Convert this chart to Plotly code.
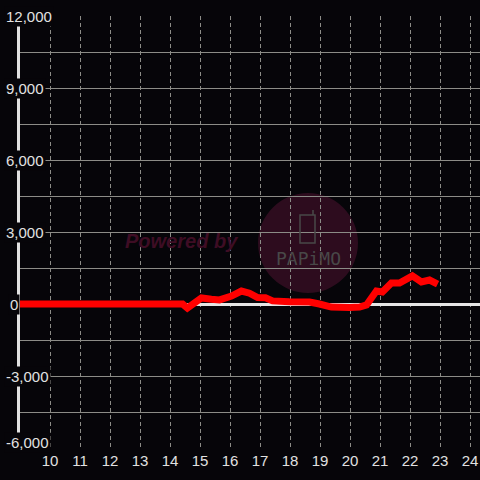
import plotly.graph_objects as go

# Data (hour of day vs. value)
hours = [9.0, 14.42, 14.58, 14.85, 15.05, 15.38, 15.65, 16.05, 16.38, 16.65,
         16.92, 17.18, 17.42, 17.98, 18.65, 18.98, 19.38, 19.98, 20.32, 20.55,
         20.88, 21.08, 21.38, 21.65, 22.08, 22.38, 22.65, 22.92]
values = [0, 0, -170, 100, 250, 200, 170, 330, 540, 450,
          270, 260, 130, 90, 80, 0, -130, -150, -130, -40,
          540, 500, 870, 870, 1170, 920, 1000, 830]

x_ticks = list(range(10, 25))
y_label_vals = [12000, 9000, 6000, 3000, 0, -3000, -6000]
y_label_text = ["12,000", "9,000", "6,000", "3,000", "0", "-3,000", "-6,000"]

BG = "#060509"
GRID = "rgb(140,140,135)"
TXT = "rgb(225,225,225)"
FONT = "Liberation Sans, Arial, sans-serif"

fig = go.Figure()
fig.add_trace(go.Scatter(
    x=hours, y=values, mode="lines",
    line=dict(color="#ff0000", width=7),
    hoverinfo="skip", showlegend=False,
))

L, T, W, H = 20, 16, 460, 432


def px_x(p):
    return (p - L) / W


def px_y(p):
    return (T + H - p) / H


annotations = []
for v, t in zip(y_label_vals, y_label_text):
    annotations.append(dict(
        xref="paper", yref="y", x=px_x(8 if t == "0" else 4), y=v,
        xanchor="left", yanchor="middle",
        yshift=6 if v == min(y_label_vals) else 0,
        text=t, showarrow=False, bgcolor=BG, borderpad=1,
        font=dict(size=15, color=TXT, family=FONT),
    ))

# watermark
annotations.append(dict(
    xref="paper", yref="paper", x=px_x(181), y=px_y(241),
    text="<b><i>Powered by</i></b>", showarrow=False,
    font=dict(size=20, color="rgb(62,13,36)", family=FONT),
))
annotations.append(dict(
    xref="paper", yref="paper", x=px_x(308), y=px_y(258),
    text="PAPiMO", showarrow=False,
    font=dict(size=18, color="rgb(72,72,72)", family="DejaVu Sans Mono, monospace"),
))

shapes = [
    dict(type="circle", xref="paper", yref="paper", layer="below",
         x0=px_x(258), x1=px_x(358), y0=px_y(293), y1=px_y(193),
         fillcolor="rgb(45,12,30)", line=dict(width=0)),
    dict(type="rect", xref="paper", yref="paper", layer="above",
         x0=px_x(300), x1=px_x(315), y0=px_y(243), y1=px_y(215),
         fillcolor="rgba(0,0,0,0)", line=dict(color="rgb(72,72,72)", width=1.5)),
    dict(type="line", xref="paper", yref="paper", layer="above",
         x0=px_x(313), x1=px_x(313), y0=px_y(215), y1=px_y(210),
         line=dict(color="rgb(72,72,72)", width=1.5)),
]

fig.update_layout(
    width=480, height=480,
    margin=dict(l=L, r=0, t=T, b=480 - T - H),
    paper_bgcolor=BG, plot_bgcolor=BG,
    annotations=annotations, shapes=shapes,
    xaxis=dict(
        range=[9, 9 + W / 30], tickvals=x_ticks, ticktext=[str(v) for v in x_ticks],
        showgrid=True, gridcolor=GRID, gridwidth=1, griddash="4px,3px",
        zeroline=False, showline=False, ticks="", ticklabelstandoff=2,
        tickfont=dict(size=15, color=TXT, family=FONT),
        fixedrange=True,
    ),
    yaxis=dict(
        range=[-6000, 12000], dtick=1500, tick0=0,
        showgrid=True, gridcolor=GRID, gridwidth=1,
        zeroline=True, zerolinecolor="rgb(230,230,230)", zerolinewidth=3,
        showline=True, linecolor="rgb(225,225,225)", linewidth=3,
        showticklabels=False, ticks="", fixedrange=True,
    ),
)

fig.write_html(
    "out.html",
    config={"displayModeBar": False},
    post_script="document.body.style.margin='0';document.body.style.background='" + BG + "';",
)
